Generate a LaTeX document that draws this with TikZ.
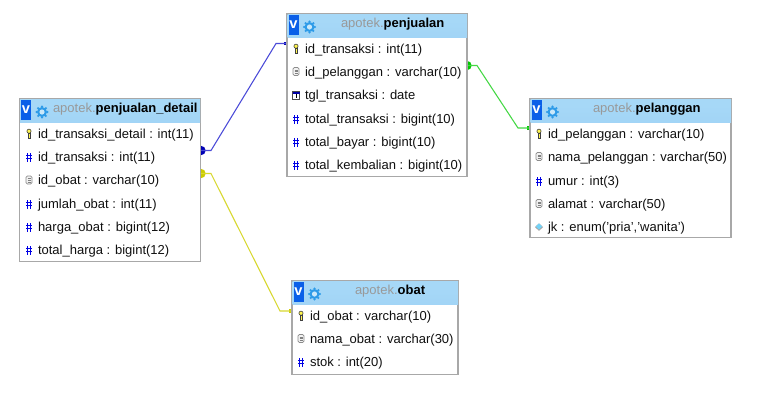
\documentclass[tikz,border=0pt]{standalone}
\usepackage{fontspec}
\setmainfont{Liberation Sans}
\definecolor{bordergray}{HTML}{A8A8A8}
\definecolor{vblue}{HTML}{0A5FE8}
\definecolor{gearblue}{HTML}{2E9BE8}
\definecolor{headtop}{HTML}{D6EEFC}
\definecolor{headmid}{HTML}{A6D8F7}
\definecolor{headbot}{HTML}{9FD2F5}
\definecolor{textdark}{HTML}{101010}
\definecolor{blueline}{HTML}{4A4AD8}
\definecolor{bluedot}{HTML}{0000B4}
\definecolor{greenline}{HTML}{44D844}
\definecolor{greendot}{HTML}{00C800}
\definecolor{yellowline}{HTML}{D8D830}
\definecolor{yellowdot}{HTML}{CCCC00}
\pgfdeclareverticalshading{headshade}{100bp}{
  color(0bp)=(headbot); color(62bp)=(headmid); color(84bp)=(headmid); color(100bp)=(headtop)}
\tikzset{
  x=0.75pt,y=-0.75pt,
  tablebox/.style={draw=bordergray,line width=0.8pt,fill=white,anchor=north west,inner sep=0pt,outer sep=0pt},
  headbar/.style={shading=headshade,anchor=north west,inner sep=0pt,outer sep=0pt,minimum height=17.25pt},
  vbadge/.style={fill=vblue,anchor=north west,inner sep=0pt,outer sep=0pt,minimum width=7.5pt,minimum height=15pt,
    text=white,font=\fontsize{11}{11}\selectfont\bfseries,align=center},
  titletext/.style={anchor=base west,inner sep=0pt,outer sep=0pt,font=\fontsize{9.75}{11}\selectfont,text=black},
  rowtext/.style={anchor=base west,inner sep=0pt,outer sep=0pt,font=\fontsize{9.75}{11}\selectfont,text=textdark},
  linkdot/.style={circle,inner sep=0pt,minimum size=7pt},
  linkend/.style={rectangle,inner sep=0pt,minimum size=2.4pt},
  link/.style={line width=0.8pt},
  keyicon/.pic={
    \draw[black!75,fill=yellow!70!white,line width=0.45pt] (0,-1.8) circle[radius=2.1];
    \draw[black!75,fill=yellow!70!white,line width=0.45pt] (-1.1,0) rectangle (1.1,5);},
  hashicon/.pic={
    \draw[blue!90!black,line width=0.8pt] (-1.3,-3)--(-1.3,5.5) (1.6,-3)--(1.6,5.5) (-3,-0.3)--(3.3,-0.3) (-3,2.6)--(3.3,2.6);},
  docicon/.pic={
    \draw[black!45,fill=black!5,line width=0.6pt,rounded corners=1pt] (-3,-3.5) rectangle (3,4.5);
    \draw[black!50,line width=0.4pt] (-1.5,-1.2)--(1.5,-1.2) (-1.5,0.7)--(1.5,0.7) (-1.5,2.5)--(1.5,2.5);},
  dateicon/.pic={
    \draw[black!70,fill=white,line width=0.5pt] (-3.5,-3) rectangle (3.5,4.5);
    \fill[blue!65!black] (-3.5,-3) rectangle (3.5,-1);
    \draw[black,line width=0.5pt] (0.3,-0.1)--(0.3,3.5);},
  enumicon/.pic={
    \fill[black!35] (0,-2.7)--(4,1.1)--(0,4.9)--(-4,1.1)--cycle;
    \fill[cyan!55!white] (0,-2.7)--(3.2,0.5)--(0,3.7)--(-3.2,0.5)--cycle;},
  gearicon/.pic={
    \foreach \a in {0,45,...,315}{\fill[gearblue] (\a:5.4) circle[radius=1.25];}
    \fill[gearblue] (0,0) circle[radius=5];
    \fill[headmid!60!white] (0,0) circle[radius=2.6];},
}
% header: name, x, y, width, title x, title text
\newcommand{\tblhead}[6]{%
  \node[headbar,minimum width=#4*0.75pt] (#1h) at (#2,#3) {};
  \node[vbadge] (#1v) at (#2+1,#3+1) {v};
  \pic at (#2+22,#3+13) {gearicon};
  \node[titletext] (#1t) at (#5,#3+13.5) {\textcolor{black!40}{apotek.}\textbf{#6}};
}
% row: name, icon, icon x, text x, centre y, text
\newcommand{\tblrow}[6]{%
  \pic at (#3,#5) {#2};
  \node[rowtext] (#1) at (#4,#5+5.2) {#6};
}
\begin{document}
\begin{tikzpicture}
\useasboundingbox (0,0) rectangle (781,419);
\fill[white] (0,0) rectangle (781,419);
% connector end points
\node[linkdot,fill=bluedot] (bdot) at (201,150.5) {};
\coordinate (bb1) at (211,150.5);
\coordinate (bb2) at (276,43.5);
\node[linkend,fill=bluedot] (bend) at (286,43.5) {};
\draw[link,blueline] (bdot.center)--(bb1)--(bb2)--(bend.center);
\node[linkdot,fill=yellowdot] (ydot) at (201,173.5) {};
\coordinate (yb1) at (211,173.5);
\coordinate (yb2) at (280,311);
\node[linkend,fill=yellowdot] (yend) at (291,311) {};
\draw[link,yellowline] (ydot.center)--(yb1)--(yb2)--(yend.center);
\node[linkdot,fill=greendot] (gdot) at (467,65.5) {};
\coordinate (gb1) at (477,65.5);
\coordinate (gb2) at (518,128);
\node[linkend,fill=greendot] (gend) at (529,128) {};
\draw[link,greenline] (gdot.center)--(gb1)--(gb2)--(gend.center);
% penjualan_detail
\node[tablebox,minimum width=136pt,minimum height=122.25pt] (det) at (19.5,98.5) {};
\tblhead{det}{20}{99}{180}{53}{penjualan\_detail}
\tblrow{det1}{keyicon}{29}{38}{133}{id\_transaksi\_detail : int(11)}
\tblrow{det2}{hashicon}{29}{38}{156}{id\_transaksi : int(11)}
\tblrow{det3}{docicon}{29}{38}{179.5}{id\_obat : varchar(10)}
\tblrow{det4}{hashicon}{29}{38}{203}{jumlah\_obat : int(11)}
\tblrow{det5}{hashicon}{29}{38}{226}{harga\_obat : bigint(12)}
\tblrow{det6}{hashicon}{29}{38}{249}{total\_harga : bigint(12)}
% penjualan
\node[tablebox,minimum width=135pt,minimum height=122.25pt] (pjl) at (287,13.5) {};
\tblhead{pjl}{287.5}{14}{179.5}{341}{penjualan}
\tblrow{pjl1}{keyicon}{296}{305}{48}{id\_transaksi : int(11)}
\tblrow{pjl2}{docicon}{296}{305}{71}{id\_pelanggan : varchar(10)}
\tblrow{pjl3}{dateicon}{296}{305}{94.5}{tgl\_transaksi : date}
\tblrow{pjl4}{hashicon}{296}{305}{118}{total\_transaksi : bigint(10)}
\tblrow{pjl5}{hashicon}{296}{305}{141}{total\_bayar : bigint(10)}
\tblrow{pjl6}{hashicon}{296}{305}{164}{total\_kembalian : bigint(10)}
% pelanggan
\node[tablebox,minimum width=150.75pt,minimum height=104.25pt] (plg) at (530,98.5) {};
\tblhead{plg}{530.5}{99}{200.5}{593}{pelanggan}
\tblrow{plg1}{keyicon}{539}{548}{133}{id\_pelanggan : varchar(10)}
\tblrow{plg2}{docicon}{539}{548}{156}{nama\_pelanggan : varchar(50)}
\tblrow{plg3}{hashicon}{539}{548}{180}{umur : int(3)}
\tblrow{plg4}{docicon}{539}{548}{203}{alamat : varchar(50)}
\tblrow{plg5}{enumicon}{539}{548}{226}{jk : enum('pria','wanita')}
% obat
\node[tablebox,minimum width=124.5pt,minimum height=70.5pt] (obt) at (292,280.5) {};
\tblhead{obt}{292.5}{281}{165.5}{355}{obat}
\tblrow{obt1}{keyicon}{301}{310}{315}{id\_obat : varchar(10)}
\tblrow{obt2}{docicon}{301}{310}{338}{nama\_obat : varchar(30)}
\tblrow{obt3}{hashicon}{301}{310}{361}{stok : int(20)}
\end{tikzpicture}
\end{document}
